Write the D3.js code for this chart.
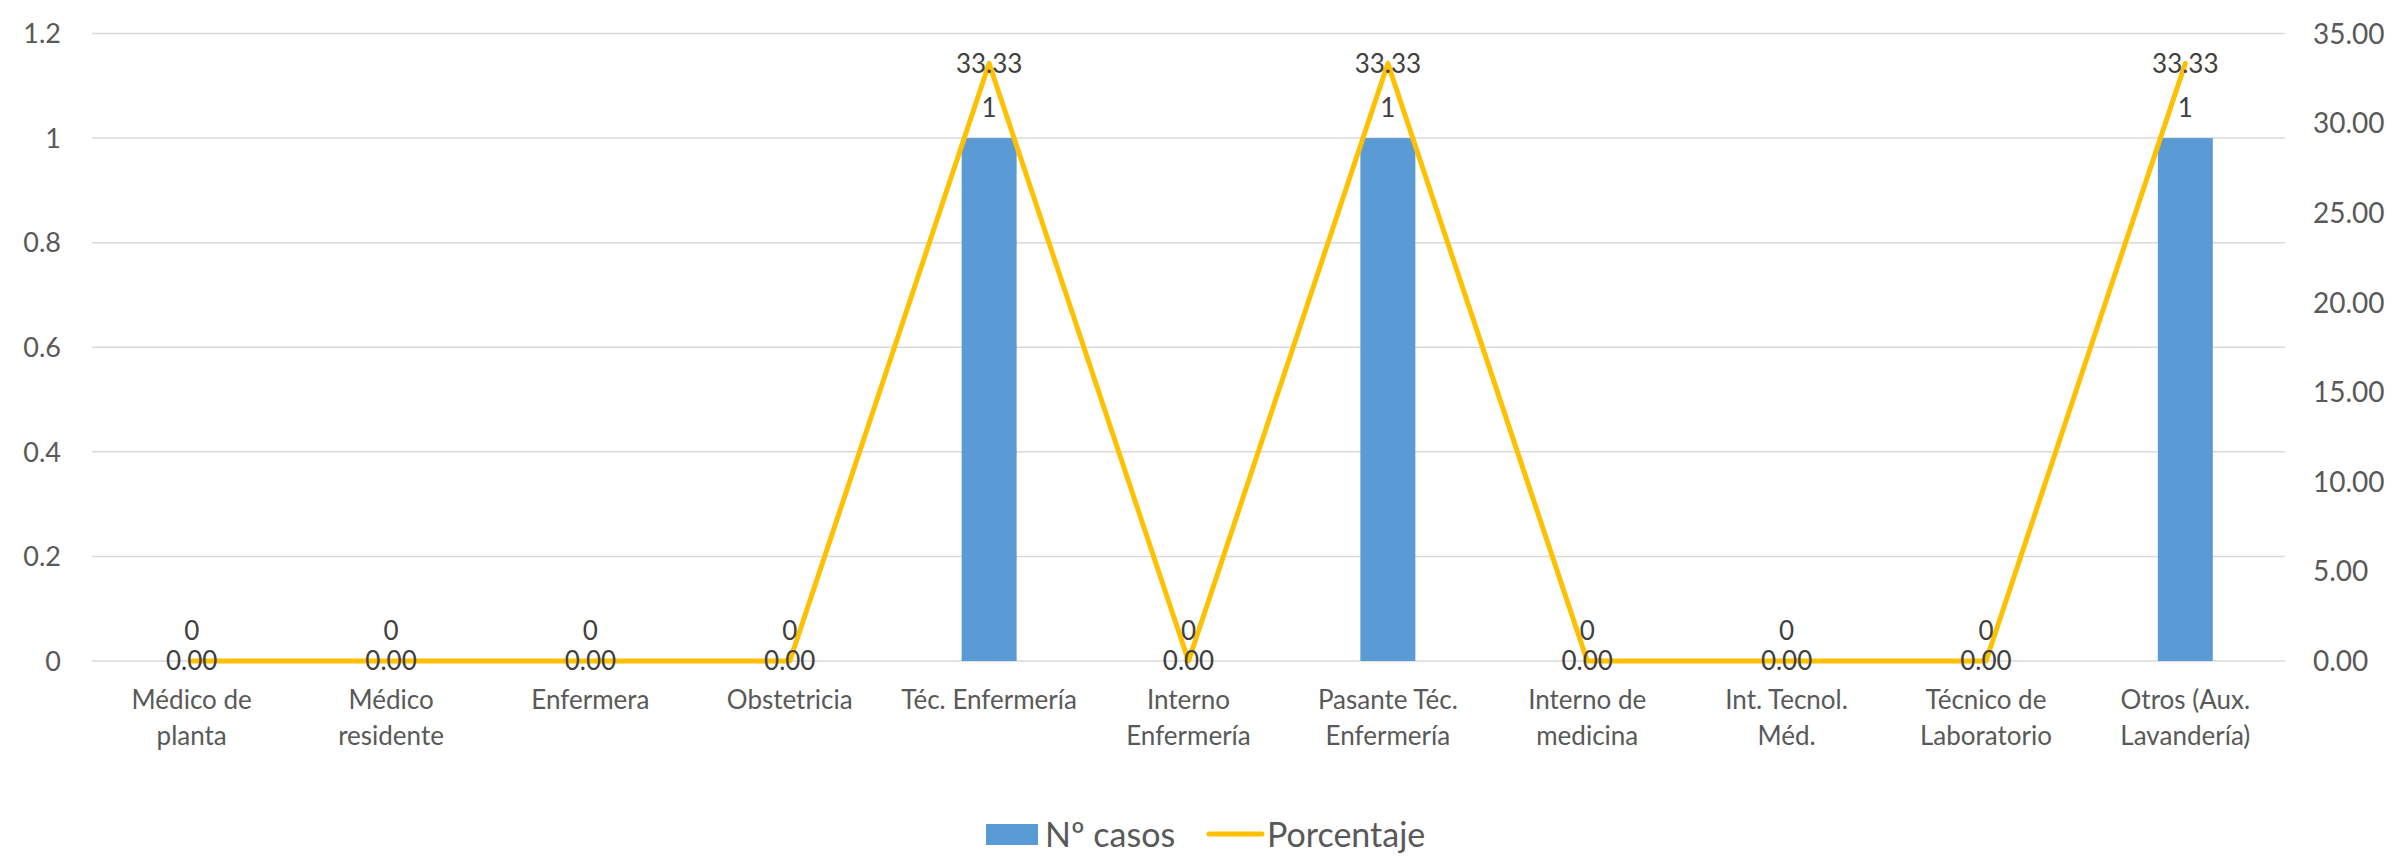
<!DOCTYPE html>
<html><head><meta charset="utf-8">
<script src="https://cdn.jsdelivr.net/npm/d3@7"></script>
<style>body{margin:0;background:#fff}svg{display:block}text{font-family:Lato,"Open Sans",sans-serif}</style>
</head><body><svg id="c" width="2394" height="858"></svg>
<script>
const categories = ["Médico de|planta","Médico|residente","Enfermera","Obstetricia","Téc. Enfermería","Interno|Enfermería","Pasante Téc.|Enfermería","Interno de|medicina","Int. Tecnol.|Méd.","Técnico de|Laboratorio","Otros (Aux.|Lavandería)"];
const casos = [0,0,0,0,1,0,1,0,0,0,1];
const porcentaje = [0,0,0,0,33.33,0,33.33,0,0,0,33.33];
const leftTicks = [0,0.2,0.4,0.6,0.8,1,1.2];
const rightTicks = [0,5,10,15,20,25,30,35];
const seriesNames = ["Nº casos","Porcentaje"];

const svg = d3.select("#c");
const L = 92, R = 2285, T = 33.5, B = 661;
const x = d3.scaleBand().domain(d3.range(categories.length)).range([L,R]);
const yL = d3.scaleLinear().domain([0,1.2]).range([B,T]);
const yR = d3.scaleLinear().domain([0,35]).range([B,T]);
const axisCol = "#595959", labCol = "#404040";

// gridlines
svg.append("g").selectAll("line").data(leftTicks).join("line")
  .attr("x1",L).attr("x2",R).attr("y1",d=>yL(d)).attr("y2",d=>yL(d))
  .attr("stroke","#d9d9d9").attr("stroke-width",1.5);

// left axis labels
svg.append("g").selectAll("text").data(leftTicks).join("text")
  .attr("x",61).attr("y",d=>yL(d)).attr("dy","0.36em").attr("text-anchor","end")
  .attr("font-size",27).attr("fill",axisCol).text(d=>d3.format("")(d));
// right axis labels
svg.append("g").selectAll("text").data(rightTicks).join("text")
  .attr("x",2313).attr("y",d=>yR(d)).attr("dy","0.36em").attr("text-anchor","start")
  .attr("font-size",28).attr("fill",axisCol).text(d=>d3.format(".2f")(d));

// bars
const bw = 55;
svg.append("g").selectAll("rect").data(casos).join("rect")
  .attr("x",(d,i)=>x(i)+x.bandwidth()/2-bw/2).attr("width",bw)
  .attr("y",d=>yL(d)).attr("height",d=>B-yL(d)).attr("fill","#5B9BD5");

// line
const line = d3.line().x((d,i)=>x(i)+x.bandwidth()/2).y(d=>yR(d));
svg.append("path").datum(porcentaje).attr("d",line).attr("fill","none")
  .attr("stroke","#FFC000").attr("stroke-width",5).attr("stroke-linejoin","round").attr("stroke-linecap","round");

// category labels
const cg = svg.append("g");
categories.forEach((c,i)=>{
  const cx = x(i)+x.bandwidth()/2;
  const t = cg.append("text").attr("x",cx).attr("y",709).attr("text-anchor","middle")
    .attr("font-size",26).attr("fill",axisCol);
  c.split("|").forEach((s,j)=>t.append("tspan").attr("x",cx).attr("dy",j?36:0).text(s));
});

// data labels
svg.append("g").selectAll("text").data(casos).join("text")
  .attr("x",(d,i)=>x(i)+x.bandwidth()/2).attr("y",d=>yL(d)-30).attr("dy","0.36em")
  .attr("text-anchor","middle").attr("font-size",26).attr("fill",labCol).text(d=>d);
svg.append("g").selectAll("text").data(porcentaje).join("text")
  .attr("x",(d,i)=>x(i)+x.bandwidth()/2).attr("y",d=>yR(d)).attr("dy","0.36em")
  .attr("text-anchor","middle").attr("font-size",26).attr("fill",labCol).text(d=>d3.format(".2f")(d));

// legend
const lg = svg.append("g");
lg.append("rect").attr("x",986).attr("y",824).attr("width",52).attr("height",21).attr("fill","#5B9BD5");
lg.append("text").attr("x",1045).attr("y",835).attr("dy","0.36em").attr("font-size",34).attr("fill",axisCol).text(seriesNames[0]);
lg.append("line").attr("x1",1209).attr("x2",1262).attr("y1",834).attr("y2",834).attr("stroke","#FFC000").attr("stroke-width",5).attr("stroke-linecap","round");
lg.append("text").attr("x",1267).attr("y",835).attr("dy","0.36em").attr("font-size",34).attr("fill",axisCol).text(seriesNames[1]);
</script></body></html>
